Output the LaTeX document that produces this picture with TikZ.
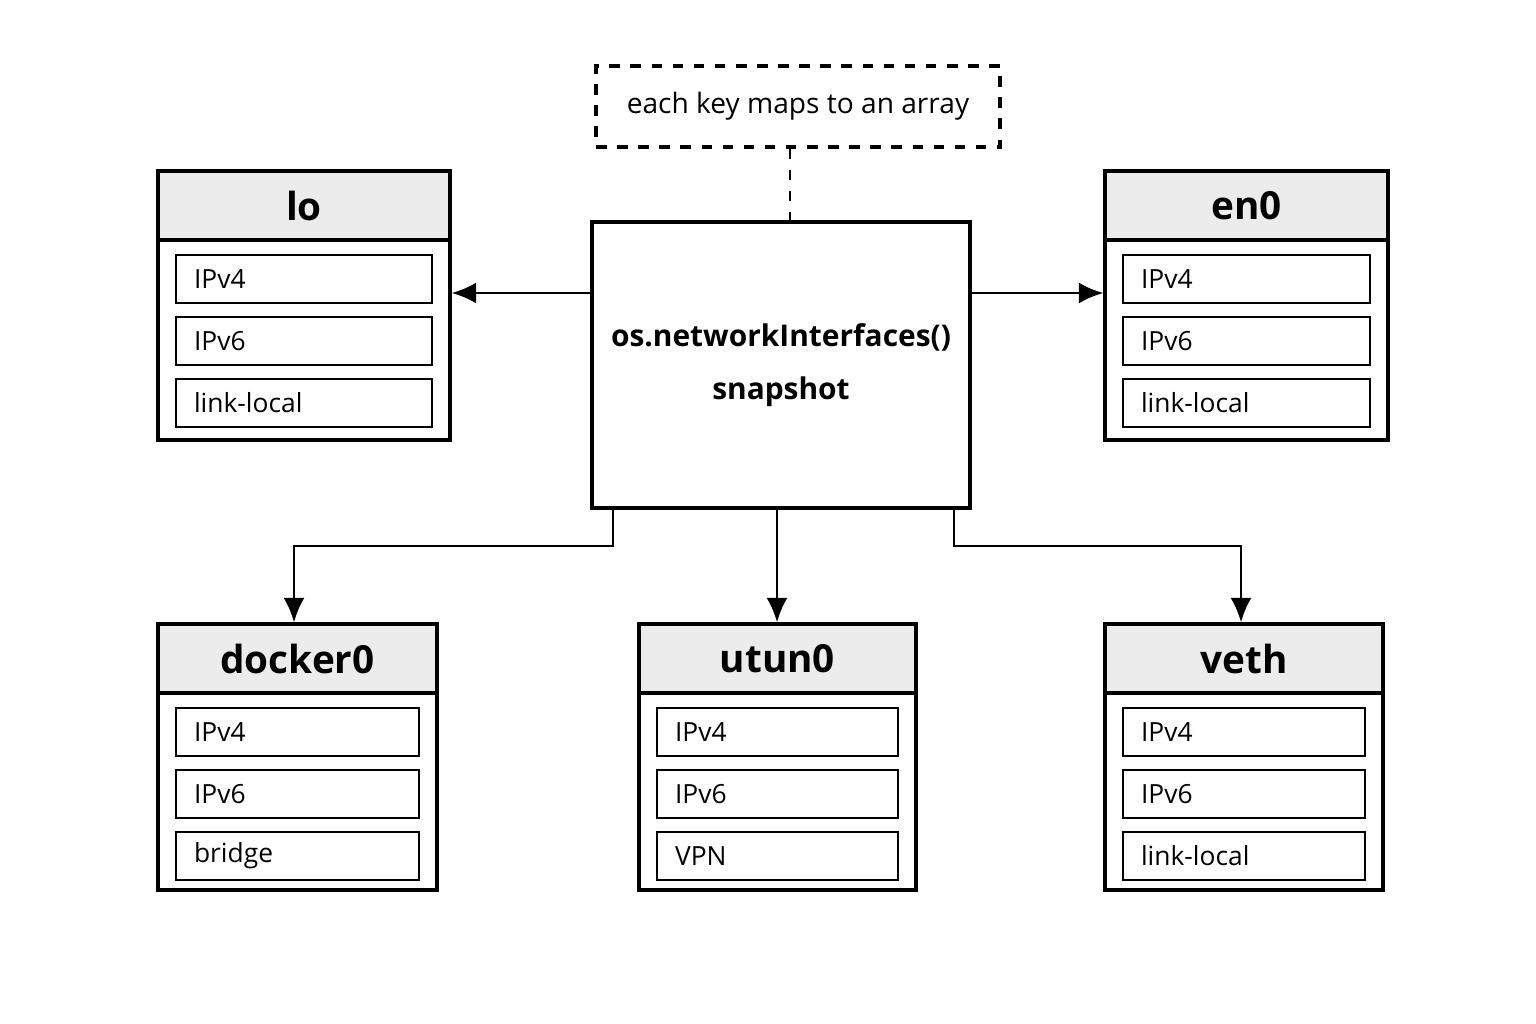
\documentclass[tikz,border=0pt]{standalone}
\usepackage{fontspec}
\setmainfont{Open Sans}
\usetikzlibrary{arrows.meta,fit}

\tikzset{
  frame/.style = {draw, line width=0.9pt, inner sep=0pt},
  head/.style = {frame, fill=gray!15},
  item/.style = {draw, line width=0.8pt, inner sep=0pt},
  link/.style = {line width=0.8pt, -{Latex[length=7pt,width=6pt]}},
}

% #1 name, #2 left, #3 top, #4 right, #5 bottom, #6 title, #7 last entry
\newcommand{\ifbox}[7]{%
  \node[frame, fit={(#2,#3) (#4,#5)}] (#1) {};
  \node[head, fit={(#2,#3) (#4,{#3+69})}] (#1-h) {};
  \node[font=\fontsize{11}{13}\selectfont\bfseries] at (#1-h) {#6};
  \foreach \k/\t in {0/IPv4,1/IPv6,2/#7} {
    \node[item, fit={({#2+18},{#3+84+62*\k}) ({#4-18},{#3+132+62*\k})}] (#1-\k) {};
    \node[anchor=west, font=\fontsize{7.5}{9}\selectfont] at ([xshift=2pt]#1-\k.west) {\t};
  }
}

\begin{document}
\begin{tikzpicture}[x=0.01cm, y=-0.01cm]
  \useasboundingbox (0,0) rectangle (1536,1024);

  \node[frame, dashed, fit={(596,66) (1000,147)}] (note) {};
  \node[font=\fontsize{8}{10}\selectfont] at (note) {each key maps to an array};

  \node[frame, fit={(592,222) (970,508)}] (snap) {};
  \node[font=\fontsize{8.5}{13}\selectfont\bfseries, align=center] at (snap) {os.networkInterfaces()\\[2pt]snapshot};

  \ifbox{lo}{158}{171}{450}{440}{lo}{link-local}
  \ifbox{en0}{1105}{171}{1388}{440}{en0}{link-local}
  \ifbox{docker0}{158}{624}{437}{890}{docker0}{bridge}
  \ifbox{utun0}{639}{624}{916}{890}{utun0}{VPN}
  \ifbox{veth}{1105}{624}{1383}{890}{veth}{link-local}

  \draw[line width=0.8pt, dashed] (note.south -| 790,0) -- (snap.north -| 790,0);
  \draw[link] (snap.west |- 0,293) -- (lo.east |- 0,293);
  \draw[link] (snap.east |- 0,293) -- (en0.west |- 0,293);
  \draw[link] (snap.south -| 613,0) |- (294,546) -- (docker0.north -| 294,0);
  \draw[link] (snap.south -| 777,0) -- (utun0.north -| 777,0);
  \draw[link] (snap.south -| 954,0) |- (1241,546) -- (veth.north -| 1241,0);
\end{tikzpicture}
\end{document}
